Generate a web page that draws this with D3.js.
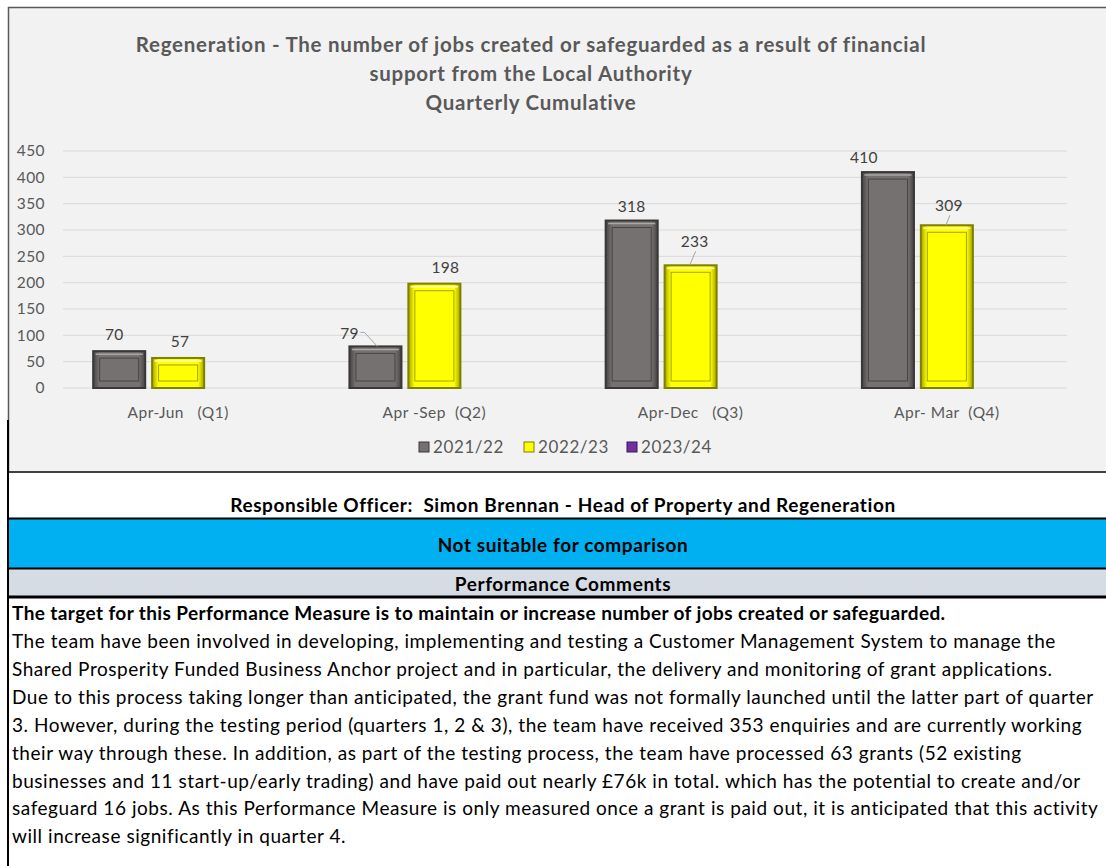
<!DOCTYPE html>
<html>
<head>
<meta charset="utf-8">
<script src="https://cdn.jsdelivr.net/npm/d3@7/dist/d3.min.js"></script>
<style>
    body { margin: 0; background: #fff; }
    svg text { font-family: Lato, "Open Sans", sans-serif; white-space: pre; }
</style>
</head>
<body>
<div id="chart"></div>
<script>
// Chart data
const quarters = ["Apr-Jun   (Q1)", "Apr -Sep  (Q2)", "Apr-Dec   (Q3)", "Apr- Mar  (Q4)"];
const seriesNames = ["2021/22", "2022/23", "2023/24"];
const values2122 = [70, 79, 318, 410];
const values2223 = [57, 198, 233, 309];
const values2324 = [null, null, null, null];
const yTicks = [0, 50, 100, 150, 200, 250, 300, 350, 400, 450];

const titleLines = [
    "Regeneration - The number of jobs created or safeguarded as a result of financial",
    "support from the Local Authority",
    "Quarterly Cumulative"
];
const officerText = "Responsible Officer:  Simon Brennan - Head of Property and Regeneration";
const comparisonText = "Not suitable for comparison";
const commentsHeader = "Performance Comments";
const commentLead = "The target for this Performance Measure is to maintain or increase number of jobs created or safeguarded.";
const commentLines = [
    "The team have been involved in developing, implementing and testing a Customer Management System to manage the",
    "Shared Prosperity Funded Business Anchor project and in particular, the delivery and monitoring of grant applications.",
    "Due to this process taking longer than anticipated, the grant fund was not formally launched until the latter part of quarter",
    "3. However, during the testing period (quarters 1, 2 & 3), the team have received 353 enquiries and are currently working",
    "their way through these. In addition, as part of the testing process, the team have processed 63 grants (52 existing",
    "businesses and 11 start-up/early trading) and have paid out nearly £76k in total. which has the potential to create and/or",
    "safeguard 16 jobs. As this Performance Measure is only measured once a grant is paid out, it is anticipated that this activity",
    "will increase significantly in quarter 4."
];

const seriesValues = [values2122, values2223, values2324];
const colors = {
    "2021/22": { fill: "#767171", edge: "#3a3737", light: "#aaa6a6", dark: "#474444" },
    "2022/23": { fill: "#ffff00", edge: "#7f7f00", light: "#ffffb0", dark: "#a3a300" },
    "2023/24": { fill: "#7030a0", edge: "#3a1656", light: "#a070c8", dark: "#4a1f6b" }
};

const width = 1106, height = 866;

const svg = d3.select("#chart")
    .append("svg")
    .attr("width", width)
    .attr("height", height);

// Chart box
svg.append("rect")
    .attr("x", 8).attr("y", 7)
    .attr("width", width - 8).attr("height", 465)
    .attr("fill", "#f2f2f2");

svg.append("path")
    .attr("d", `M${width},7.5 H8.5 V472`)
    .attr("fill", "none")
    .attr("stroke", "#595959")
    .attr("stroke-width", 1.5);

// Title
svg.append("g")
    .selectAll("text")
    .data(titleLines)
    .enter()
    .append("text")
    .attr("x", 531)
    .attr("y", (d, i) => 52 + i * 29)
    .attr("text-anchor", "middle")
    .attr("font-size", 20.5)
    .attr("letter-spacing", 0.75)
    .attr("font-weight", "bold")
    .attr("fill", "#595959")
    .text(d => d);

// Scales
const y = d3.scaleLinear().domain([0, 450]).range([388, 151]);

const x0 = d3.scaleBand()
    .domain(quarters)
    .range([50, 1075])
    .paddingInner(0.333)
    .paddingOuter(0.1665);

const x1 = d3.scaleBand()
    .domain(seriesNames)
    .range([0, x0.bandwidth()])
    .paddingInner(0.1);

// Gridlines
svg.append("g")
    .selectAll("line")
    .data(yTicks)
    .enter()
    .append("line")
    .attr("x1", 63).attr("x2", 1067)
    .attr("y1", d => y(d)).attr("y2", d => y(d))
    .attr("stroke", "#d9d9d9")
    .attr("stroke-width", 1);

// Y axis
const yAxis = svg.append("g")
    .attr("transform", "translate(50,0)")
    .call(d3.axisLeft(y).tickValues(yTicks).tickSize(0).tickPadding(5));
yAxis.select(".domain").remove();
yAxis.selectAll("text")
    .attr("font-family", "Lato, 'Open Sans', sans-serif")
    .attr("font-size", 15.5)
    .attr("letter-spacing", 0.4)
    .attr("fill", "#595959");

// X axis labels
const xAxis = svg.append("g")
    .attr("transform", "translate(0,388)")
    .call(d3.axisBottom(x0).tickSize(0).tickPadding(19));
xAxis.select(".domain").remove();
xAxis.selectAll("text")
    .attr("font-family", "Lato, 'Open Sans', sans-serif")
    .attr("font-size", 15.5)
    .attr("letter-spacing", 0.5)
    .attr("fill", "#595959");

// Gradients for the bevelled bars
const defs = svg.append("defs");
seriesNames.forEach((s, i) => {
    const c = colors[s];
    const g = defs.append("linearGradient").attr("id", "grad" + i).attr("x1", 0).attr("x2", 1);
    g.append("stop").attr("offset", "0%").attr("stop-color", c.dark);
    g.append("stop").attr("offset", "12%").attr("stop-color", c.fill);
    g.append("stop").attr("offset", "88%").attr("stop-color", c.fill);
    g.append("stop").attr("offset", "100%").attr("stop-color", c.dark);
});

// Flatten data for bars
const bars = [];
seriesNames.forEach((s, si) => {
    seriesValues[si].forEach((v, qi) => {
        if (v !== null) bars.push({ series: s, si, quarter: quarters[qi], qi, value: v });
    });
});

const barG = svg.append("g")
    .selectAll("g")
    .data(bars)
    .enter()
    .append("g")
    .attr("transform", d => `translate(${x0(d.quarter) + x1(d.series)},0)`);

barG.append("rect")
    .attr("x", 0.5)
    .attr("y", d => y(d.value))
    .attr("width", x1.bandwidth() - 1)
    .attr("height", d => y(0) - y(d.value))
    .attr("fill", d => `url(#grad${d.si})`)
    .attr("stroke", d => colors[d.series].edge)
    .attr("stroke-width", 2);

// top highlight
barG.append("line")
    .attr("x1", 3).attr("x2", x1.bandwidth() - 3)
    .attr("y1", d => y(d.value) + 3).attr("y2", d => y(d.value) + 3)
    .attr("stroke", d => colors[d.series].light)
    .attr("stroke-width", 1.5);

// inner bevel outline
barG.append("rect")
    .attr("x", 7)
    .attr("y", d => y(d.value) + 7)
    .attr("width", x1.bandwidth() - 14)
    .attr("height", d => Math.max(0, y(0) - y(d.value) - 14))
    .attr("fill", "none")
    .attr("stroke", d => colors[d.series].dark)
    .attr("stroke-width", 1);

// Data labels (nudges copy Excel's manual label placement)
const labelNudge = {
    "2021/22": [[-5, -11], [-26, -7, true], [0, -9], [-24, -9]],
    "2022/23": [[2, -11], [11, -11], [4, -18, true], [2, -14, true]]
};

barG.each(function (d) {
    const nudge = labelNudge[d.series][d.qi];
    const cx = x1.bandwidth() / 2;
    const top = y(d.value);
    const g = d3.select(this);
    if (nudge[2]) {
        const lx = cx + nudge[0];
        const ly = top + nudge[1];
        if (nudge[0] < -10) {
            // label beside the bar, leader bends down to it
            g.append("polyline")
                .attr("points", `${lx + 11},${ly - 7} ${lx + 15},${ly - 7} ${cx + 2},${top}`)
                .attr("fill", "none")
                .attr("stroke", "#a6a6a6")
                .attr("stroke-width", 1);
        } else {
            g.append("line")
                .attr("x1", lx + 1).attr("y1", ly + 4)
                .attr("x2", cx - 1).attr("y2", top)
                .attr("stroke", "#a6a6a6")
                .attr("stroke-width", 1);
        }
    }
    g.append("text")
        .attr("x", cx + nudge[0])
        .attr("y", top + nudge[1])
        .attr("text-anchor", "middle")
        .attr("font-size", 15.5)
        .attr("letter-spacing", 0.3)
        .attr("fill", "#404040")
        .text(d.value);
});

// Legend
const legendX = [419, 524, 627];
const legend = svg.append("g")
    .selectAll("g")
    .data(seriesNames)
    .enter()
    .append("g")
    .attr("transform", (d, i) => `translate(${legendX[i]},442)`);

legend.append("rect")
    .attr("width", 10).attr("height", 10)
    .attr("fill", d => colors[d].fill)
    .attr("stroke", d => colors[d].edge)
    .attr("stroke-width", 1);

legend.append("text")
    .attr("x", 14)
    .attr("y", 11)
    .attr("font-size", 17)
    .attr("letter-spacing", 0.6)
    .attr("fill", "#595959")
    .text(d => d);

// Table section under the chart
svg.append("rect").attr("x", 8).attr("y", 473).attr("width", width).attr("height", 45).attr("fill", "#ffffff");
svg.append("rect").attr("x", 8).attr("y", 519).attr("width", width).attr("height", 49).attr("fill", "#00b0f0");
svg.append("rect").attr("x", 8).attr("y", 569).attr("width", width).attr("height", 27).attr("fill", "#d6dce4");

const hLines = [
    { y: 472, c: "#404040", w: 2 },
    { y: 518.5, c: "#000", w: 2 },
    { y: 568.5, c: "#000", w: 2 },
    { y: 597, c: "#000", w: 3 }
];
svg.append("g")
    .selectAll("line")
    .data(hLines)
    .enter()
    .append("line")
    .attr("x1", 8).attr("x2", width)
    .attr("y1", d => d.y).attr("y2", d => d.y)
    .attr("stroke", d => d.c)
    .attr("stroke-width", d => d.w);

svg.append("line")
    .attr("x1", 8).attr("x2", 8)
    .attr("y1", 420).attr("y2", height)
    .attr("stroke", "#000")
    .attr("stroke-width", 2);

const headRows = [
    { text: officerText, y: 512 },
    { text: comparisonText, y: 552 },
    { text: commentsHeader, y: 591 }
];
svg.append("g")
    .selectAll("text")
    .data(headRows)
    .enter()
    .append("text")
    .attr("x", 563)
    .attr("y", d => d.y)
    .attr("text-anchor", "middle")
    .attr("font-size", 19)
    .attr("letter-spacing", 0.6)
    .attr("font-weight", "bold")
    .attr("fill", "#000")
    .text(d => d.text);

// Comments paragraph
const para = svg.append("g");
para.append("text")
    .attr("x", 12)
    .attr("y", 620)
    .attr("font-size", 19)
    .attr("letter-spacing", 0.4)
    .attr("font-weight", "bold")
    .attr("fill", "#000")
    .text(commentLead);

para.selectAll("text.line")
    .data(commentLines)
    .enter()
    .append("text")
    .attr("class", "line")
    .attr("x", 12)
    .attr("y", (d, i) => 648 + i * 27.9)
    .attr("font-size", 19)
    .attr("letter-spacing", 0.55)
    .attr("fill", "#000")
    .text(d => d);
</script>
</body>
</html>
